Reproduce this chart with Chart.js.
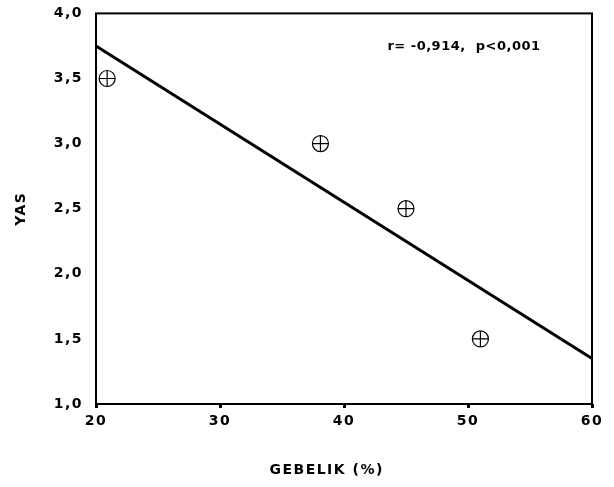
<!DOCTYPE html>
<html>
<head>
<meta charset="utf-8">
<script src="https://cdn.jsdelivr.net/npm/chart.js@4"></script>
<style>
  html, body { margin: 0; padding: 0; background: #fff; }
  #wrap { width: 614px; height: 487px; }
</style>
</head>
<body>
<div id="wrap"><canvas id="scatter" width="614" height="487"></canvas></div>
<script>
// values
const gebelik = [20.9, 38.1, 45.0, 51.0];
const yas = [3.5, 3.0, 2.5, 1.5];
// fitted line, end points
const fitX = [20, 60];
const fitY = [3.75, 1.35];
const xTicks = [20, 30, 40, 50, 60];
const yTicks = [1.0, 1.5, 2.0, 2.5, 3.0, 3.5, 4.0];
const statText = 'r= -0,914,  p<0,001';
const xTitle = 'GEBELIK (%)';

const fontFamily = '"DejaVu Sans", Arial, sans-serif';
const spacing = '1.5px';
const toXY = (xs, ys) => xs.map((x, i) => ({ x: x, y: ys[i] }));

// wide bold text like the original
const spacingPlugin = {
  id: 'spacing',
  beforeInit(chart) { chart.ctx.letterSpacing = spacing; },
  beforeUpdate(chart) { chart.ctx.letterSpacing = spacing; },
  beforeDraw(chart) { chart.ctx.letterSpacing = spacing; }
};

// box round the plot area, the r / p note and the x title (sits left of centre)
const framePlugin = {
  id: 'frame',
  afterDatasetsDraw(chart) {
    const { ctx, chartArea: a, scales } = chart;
    ctx.save();
    ctx.strokeStyle = '#000';
    ctx.lineWidth = 2;
    ctx.strokeRect(a.left, a.top, a.right - a.left, a.bottom - a.top);
    ctx.fillStyle = '#000';
    ctx.textBaseline = 'middle';

    ctx.font = 'bold 13px ' + fontFamily;
    ctx.letterSpacing = '0.5px';
    ctx.textAlign = 'left';
    ctx.fillText(statText, scales.x.getPixelForValue(43.5), scales.y.getPixelForValue(3.745));

    ctx.font = 'bold 14px ' + fontFamily;
    ctx.letterSpacing = spacing;
    ctx.textAlign = 'center';
    ctx.fillText(xTitle, scales.x.getPixelForValue(38.6), chart.height - 17);
    ctx.restore();
  }
};

new Chart(document.getElementById('scatter'), {
  type: 'scatter',
  data: {
    datasets: [
      {
        type: 'line',
        data: toXY(fitX, fitY),
        borderColor: '#000',
        borderWidth: 3,
        pointRadius: 0,
        fill: false
      },
      {
        data: toXY(gebelik, yas),
        pointStyle: 'circle',
        pointRadius: 8,
        borderColor: '#000',
        borderWidth: 1.2,
        backgroundColor: 'rgba(0,0,0,0)'
      },
      {
        data: toXY(gebelik, yas),
        pointStyle: 'cross',
        pointRadius: 8,
        borderColor: '#000',
        borderWidth: 1.2
      }
    ]
  },
  options: {
    responsive: false,
    animation: false,
    layout: { padding: { top: 12, right: 22, left: 0, bottom: 0 } },
    plugins: { legend: { display: false }, tooltip: { enabled: false } },
    scales: {
      x: {
        type: 'linear',
        min: 20,
        max: 60,
        afterBuildTicks: s => { s.ticks = xTicks.map(v => ({ value: v })); },
        afterFit: s => { s.height = 83; },
        grid: {
          drawOnChartArea: false,
          drawTicks: true,
          tickLength: 4,
          tickWidth: 3,
          tickColor: '#000',
          color: '#000'
        },
        border: { display: false },
        ticks: {
          color: '#000',
          padding: 5,
          maxRotation: 0,
          font: { family: fontFamily, weight: 'bold', size: 14 }
        },
        title: { display: false }
      },
      y: {
        type: 'linear',
        min: 1,
        max: 4,
        afterBuildTicks: s => { s.ticks = yTicks.map(v => ({ value: v })); },
        afterFit: s => { s.width = 96; },
        grid: { display: false },
        border: { display: false },
        ticks: {
          color: '#000',
          padding: 5,
          callback: v => v.toFixed(1).replace('.', ','),
          font: { family: fontFamily, weight: 'bold', size: 14 }
        },
        title: {
          display: true,
          text: 'YAS',
          color: '#000',
          padding: { top: 13, bottom: 0 },
          font: { family: fontFamily, weight: 'bold', size: 14 }
        }
      }
    }
  },
  plugins: [spacingPlugin, framePlugin]
});
</script>
</body>
</html>
